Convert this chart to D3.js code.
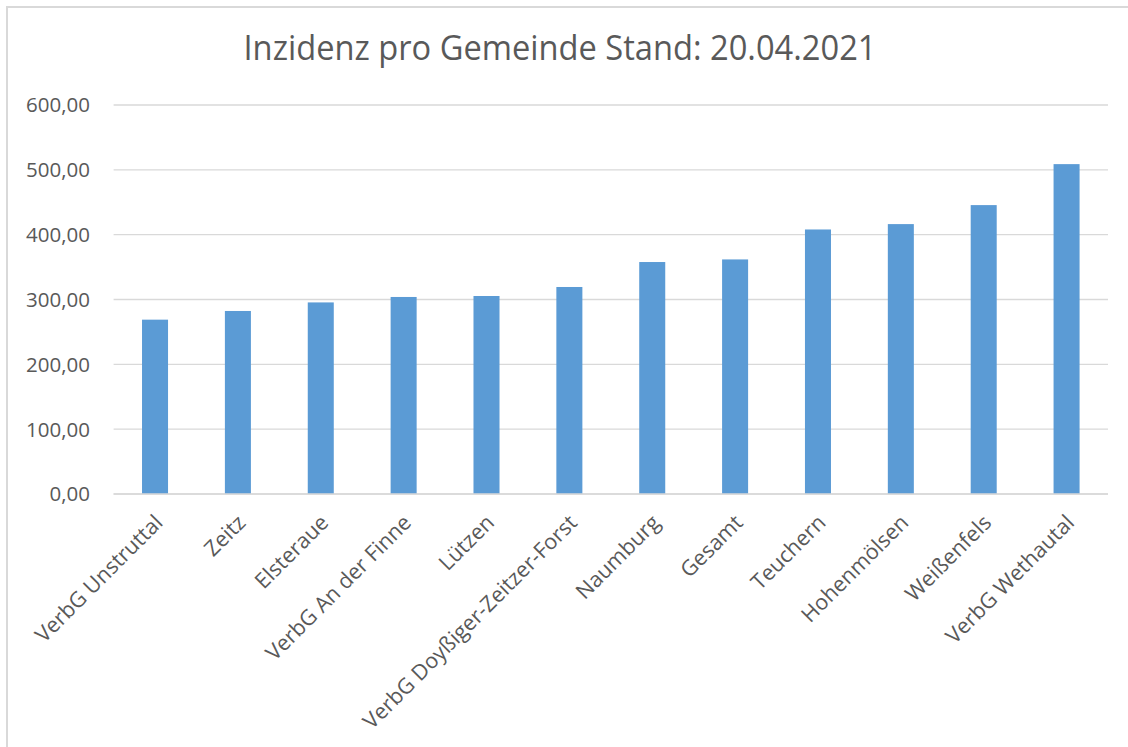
<!DOCTYPE html>
<html>
<head>
<meta charset="utf-8">
<script src="https://cdn.jsdelivr.net/npm/d3@7"></script>
<style>
  body { margin: 0; background: #fff; }
  svg text { font-family: "Open Sans", sans-serif; fill: #595959; }
</style>
</head>
<body>
<svg id="chart"></svg>
<script>
const categories = ['VerbG Unstruttal', 'Zeitz', 'Elsteraue', 'VerbG An der Finne', 'Lützen',
    'VerbG Doyßiger-Zeitzer-Forst', 'Naumburg', 'Gesamt', 'Teuchern', 'Hohenmölsen',
    'Weißenfels', 'VerbG Wethautal'];
const incidence = [268.9, 282.3, 295.5, 303.9, 305.4, 319.3, 357.8, 361.8, 408.0, 416.3, 445.6, 508.8];
const yTicks = [0, 100, 200, 300, 400, 500, 600];
const title = 'Inzidenz pro Gemeinde Stand: 20.04.2021';

const width = 1128, height = 747;
const margin = { top: 105, right: 20, bottom: 253, left: 113.6 };

const svg = d3.select('#chart').attr('width', width).attr('height', height);

// chart area frame (only left and top edges are visible)
svg.append('path')
    .attr('d', `M7,${height} V7 H${width}`)
    .attr('fill', 'none')
    .attr('stroke', '#d9d9d9')
    .attr('stroke-width', 2);

const x = d3.scaleBand()
    .domain(categories)
    .range([margin.left, width - margin.right]);

const y = d3.scaleLinear()
    .domain([0, 600])
    .range([height - margin.bottom, margin.top]);

// gridlines
svg.append('g')
    .selectAll('line')
    .data(yTicks)
    .join('line')
    .attr('x1', margin.left)
    .attr('x2', width - margin.right)
    .attr('y1', d => y(d))
    .attr('y2', d => y(d))
    .attr('stroke', '#d9d9d9')
    .attr('stroke-width', 1.3);

// y labels
const fmt = d => d3.format('.2f')(d).replace('.', ',');
svg.append('g')
    .selectAll('text')
    .data(yTicks)
    .join('text')
    .attr('x', 90)
    .attr('y', d => y(d))
    .attr('dy', '0.36em')
    .attr('text-anchor', 'end')
    .style('font-size', '20.5px')
    .text(fmt);

// bars
const barW = x.bandwidth() * 0.314;
svg.append('g')
    .selectAll('rect')
    .data(categories)
    .join('rect')
    .attr('x', (d) => x(d) + x.bandwidth() / 2 - barW / 2)
    .attr('y', (d, i) => y(incidence[i]))
    .attr('width', barW)
    .attr('height', (d, i) => y(0) - y(incidence[i]))
    .attr('fill', '#5b9bd5');

// baseline axis
svg.append('line')
    .attr('x1', margin.left)
    .attr('x2', width - margin.right)
    .attr('y1', y(0))
    .attr('y2', y(0))
    .attr('stroke', '#d9d9d9')
    .attr('stroke-width', 1.5);

// rotated category labels
svg.append('g')
    .selectAll('text')
    .data(categories)
    .join('text')
    .attr('text-anchor', 'end')
    .attr('transform', d => `translate(${x(d) + x.bandwidth() / 2 + 9},${y(0) + 30}) rotate(-45)`)
    .style('font-size', '21.5px')
    .text(d => d);

// title
svg.append('text')
    .attr('x', 560)
    .attr('y', 60)
    .attr('text-anchor', 'middle')
    .style('font-family', '"Liberation Sans Narrow", "Open Sans", sans-serif')
    .style('font-size', '35px')
    .attr('textLength', 633)
    .attr('lengthAdjust', 'spacingAndGlyphs')
    .text(title);
</script>
</body>
</html>
